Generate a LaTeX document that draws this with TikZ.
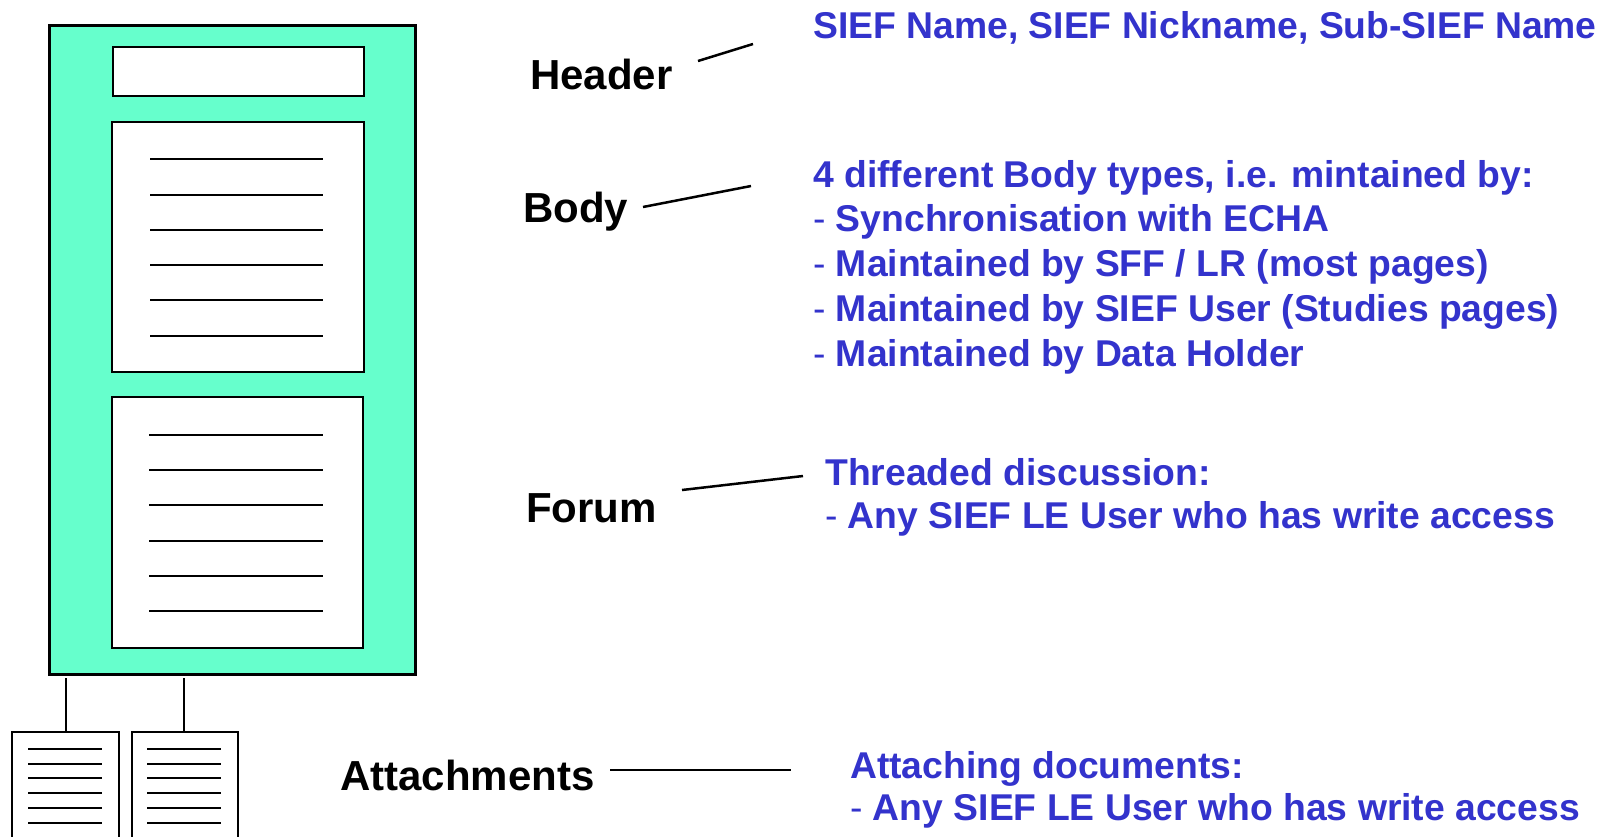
\documentclass[tikz,border=0pt]{standalone}
\usepackage{fontspec}
\setmainfont{Liberation Sans}
\definecolor{pagegreen}{HTML}{66FFCC}
\definecolor{textblue}{HTML}{3333CC}
\newcommand{\dsh}{{\mdseries -}}
\tikzset{
  pagebox/.style={draw=black, line width=3pt, fill=pagegreen, inner sep=0pt, rectangle},
  partbox/.style={draw=black, line width=2.6pt, fill=white, inner sep=0pt, rectangle},
  textline/.style={line width=2.2pt, black},
  thinline/.style={line width=1.1pt, black},
  pointer/.style={line width=2.5pt, black},
  label/.style={anchor=base west, inner sep=0pt, font=\fontsize{42}{50}\selectfont\bfseries},
  desc/.style={anchor=base west, inner sep=0pt, text=textblue, font=\fontsize{37.3}{45}\selectfont\bfseries}
}
\begin{document}
\begin{tikzpicture}[x=1pt,y=-1pt]
\useasboundingbox (0,0) rectangle (1619,836);
\clip (0,0) rectangle (1619,836);
\fill[white] (0,0) rectangle (1619,836);

% page
\node[pagebox, minimum width=366pt, minimum height=649pt] (page) at (232,349.5) {};
\node[partbox, minimum width=251pt, minimum height=49pt] (hdr) at (238.5,71.5) {};
\node[partbox, minimum width=252pt, minimum height=250pt] (bdy) at (238,247) {};
\node[partbox, minimum width=251pt, minimum height=251pt] (frm) at (237.5,522.5) {};

\foreach \y in {159,195,230,265,300,336} \draw[textline] (150,\y) -- (323,\y);
\foreach \y in {435,470,505,541,576,611} \draw[textline] (149,\y) -- (323,\y);

% attachments
\node[partbox, minimum width=107pt, minimum height=128pt] (att1) at (65.5,796) {};
\node[partbox, minimum width=106pt, minimum height=128pt] (att2) at (185,796) {};
\foreach \y in {749,764,778,793,808,823} {
  \draw[textline] (28,\y) -- (102,\y);
  \draw[textline] (147,\y) -- (221,\y);
}
\coordinate (c1) at (66,678);
\coordinate (c2) at (184,678);
\draw[thinline] (c1) -- (c1 |- att1.north);
\draw[thinline] (c2) -- (c2 |- att2.north);

% labels
\node[label] (lhdr) at (530,89) {Header};
\node[label] (lbdy) at (523,222) {Body};
\node[label] (lfrm) at (526,522) {Forum};
\node[label] (latt) at (340,790) {Attachments};

\coordinate (ph1) at (698,61);  \coordinate (ph2) at (753,44);
\coordinate (pb1) at (643,207); \coordinate (pb2) at (751,186);
\coordinate (pf1) at (682,490); \coordinate (pf2) at (803,476);
\coordinate (pa1) at (610,770); \coordinate (pa2) at (791,770);
\draw[pointer] (ph1) -- (ph2);
\draw[pointer] (pb1) -- (pb2);
\draw[pointer] (pf1) -- (pf2);
\draw[pointer] (pa1) -- (pa2);

% descriptions
\node[desc] (dh) at (813,38) {SIEF Name, SIEF Nickname, Sub-SIEF Name};
\node[desc] (db1) at (813,187) {4 different Body types, i.e. mintained by:};
\node[desc] (db2) at (813,231) {\dsh{} Synchronisation with ECHA};
\node[desc] (db3) at (813,276) {\dsh{} Maintained by SFF / LR (most pages)};
\node[desc] (db4) at (813,321) {\dsh{} Maintained by SIEF User (Studies pages)};
\node[desc] (db5) at (813,366) {\dsh{} Maintained by Data Holder};
\node[desc] (df1) at (825,485) {Threaded discussion:};
\node[desc] (df2) at (825,528) {\dsh{} Any SIEF LE User who has write access};
\node[desc] (da1) at (850,778) {Attaching documents:};
\node[desc] (da2) at (850,820) {\dsh{} Any SIEF LE User who has write access};
\end{tikzpicture}
\end{document}
